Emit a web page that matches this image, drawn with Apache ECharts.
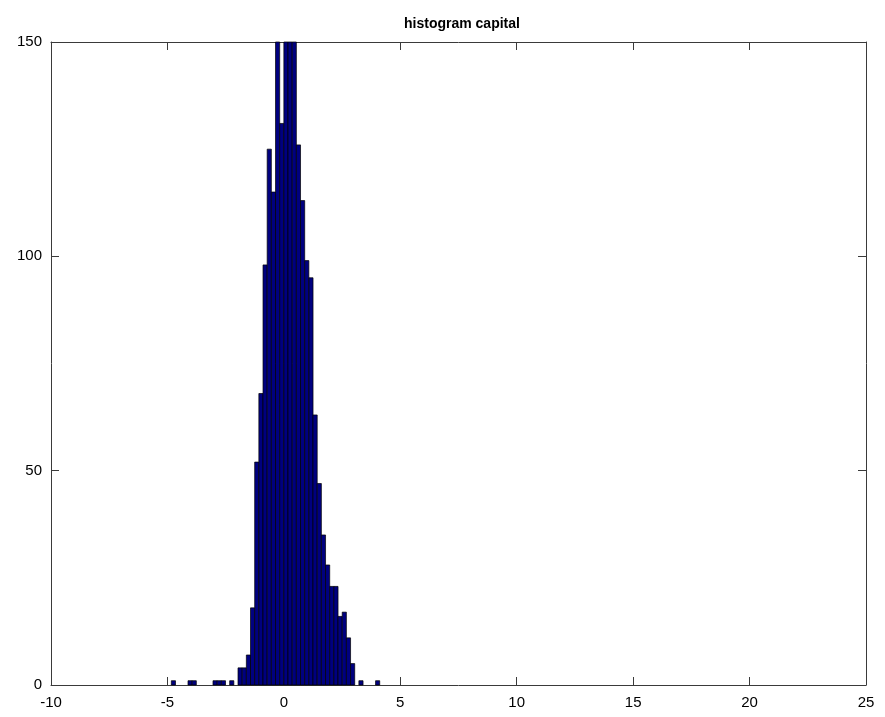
<!DOCTYPE html>
<html>
<head>
<meta charset="utf-8">
<script src="https://cdn.jsdelivr.net/npm/echarts@6/dist/echarts.min.js"></script>
<style>
  html, body { margin: 0; padding: 0; background: #ffffff; }
  #chart { width: 885px; height: 717px; }
</style>
</head>
<body>
<div id="chart"></div>
<script>
// ---- data ----
const titleText = 'histogram capital';
const binWidth = 0.179;
// left edge of each non-empty bin
const binLeft = [-4.833, -4.117, -3.938, -3.043, -2.864, -2.685, -2.327,
  -1.969, -1.790, -1.611, -1.432, -1.253, -1.074, -0.895, -0.716, -0.537,
  -0.358, -0.179, 0.000, 0.179, 0.358, 0.537, 0.716, 0.895, 1.074, 1.253,
  1.432, 1.611, 1.790, 1.969, 2.148, 2.327, 2.506, 2.685, 2.864, 3.222, 3.938];
// counts per bin
const binCount = [1, 1, 1, 1, 1, 1, 1,
  4, 4, 7, 18, 52, 68, 98, 125, 115,
  162, 131, 175, 168, 158, 126, 113, 99, 95, 63,
  47, 35, 28, 23, 23, 16, 17, 11, 5, 1, 1];
const xTicks = [-10, -5, 0, 5, 10, 15, 20, 25];
const yTicks = [0, 50, 100, 150];

const seriesData = binLeft.map((l, i) => [l, l + binWidth, binCount[i]]);

const chart = echarts.init(document.getElementById('chart'));
const frameColor = '#3a3a3a';
const labelFont = { color: '#000', fontFamily: 'Liberation Sans, Arial, sans-serif', fontSize: 15 };

function axisCommon() {
  return {
    axisLine: { show: true, onZero: false, lineStyle: { color: frameColor, width: 1 } },
    axisTick: { show: true, inside: true, length: 8, lineStyle: { color: frameColor, width: 1 } },
    splitLine: { show: false }
  };
}

chart.setOption({
  animation: false,
  backgroundColor: '#ffffff',
  title: {
    text: titleText,
    left: 399, top: 12,
    textStyle: { fontFamily: 'Liberation Sans, Arial, sans-serif', fontSize: 14, fontWeight: 'bold', color: '#000' }
  },
  grid: { left: 51, right: 19, top: 42, bottom: 32, containLabel: false },
  xAxis: [
    Object.assign({
      type: 'value', position: 'bottom', min: xTicks[0], max: xTicks[xTicks.length - 1], interval: 5,
      axisLabel: Object.assign({ margin: 10 }, labelFont)
    }, axisCommon()),
    Object.assign({
      type: 'value', position: 'top', min: xTicks[0], max: xTicks[xTicks.length - 1], interval: 5,
      axisLabel: { show: false }
    }, axisCommon())
  ],
  yAxis: [
    Object.assign({
      type: 'value', position: 'left', min: yTicks[0], max: yTicks[yTicks.length - 1], interval: 50,
      axisLabel: Object.assign({ margin: 9 }, labelFont)
    }, axisCommon()),
    Object.assign({
      type: 'value', position: 'right', min: yTicks[0], max: yTicks[yTicks.length - 1], interval: 50,
      axisLabel: { show: false }
    }, axisCommon())
  ],
  series: [{
    type: 'custom',
    xAxisIndex: 0, yAxisIndex: 0,
    data: seriesData,
    encode: { x: [0, 1], y: 2 },
    renderItem: function (params, api) {
      const p0 = api.coord([api.value(0), api.value(2)]);
      const p1 = api.coord([api.value(1), 0]);
      const shape = echarts.graphic.clipRectByRect(
        { x: p0[0], y: p0[1], width: p1[0] - p0[0], height: p1[1] - p0[1] },
        { x: params.coordSys.x, y: params.coordSys.y, width: params.coordSys.width, height: params.coordSys.height }
      );
      return shape && {
        type: 'rect',
        shape: shape,
        style: { fill: '#00007f', stroke: '#000000', lineWidth: 0.7 }
      };
    }
  }]
});
</script>
</body>
</html>
